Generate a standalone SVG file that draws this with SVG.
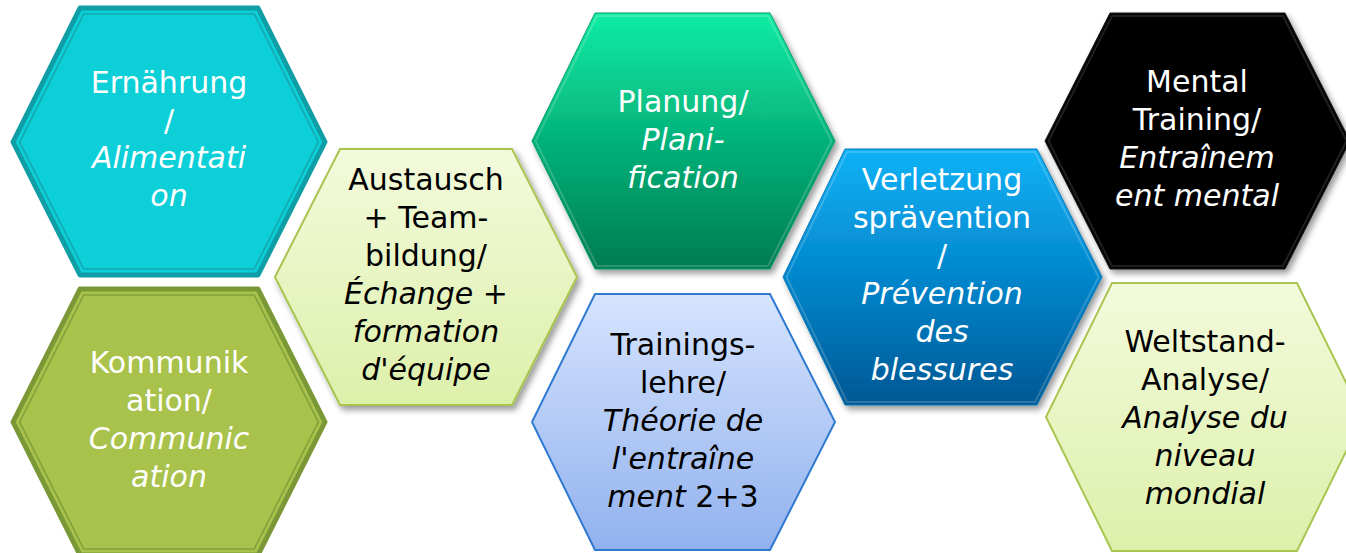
<svg xmlns="http://www.w3.org/2000/svg" width="1346" height="553" viewBox="0 0 1346 553">
<style>
  text { font-family: "DejaVu Sans", Verdana, sans-serif; font-size: 30px; text-anchor: middle; }
  .w { fill: #ffffff; }
  .b { fill: #000000; }
  .i { font-style: italic; }
</style>
<defs>
  <filter id="sh" x="-10%" y="-10%" width="125%" height="125%">
    <feDropShadow dx="3" dy="4" stdDeviation="3" flood-color="#000" flood-opacity="0.4"/>
  </filter>
  <linearGradient id="gLime" x1="0" y1="0" x2="0" y2="1">
    <stop offset="0" stop-color="#f3fadc"/>
    <stop offset="1" stop-color="#ddf0aa"/>
  </linearGradient>
  <linearGradient id="gGreen" x1="0" y1="0" x2="0" y2="1">
    <stop offset="0" stop-color="#12eca4"/>
    <stop offset="0.5" stop-color="#04b27a"/>
    <stop offset="1" stop-color="#007c50"/>
  </linearGradient>
  <linearGradient id="gBlueL" x1="0" y1="0" x2="0" y2="1">
    <stop offset="0" stop-color="#d6e4fe"/>
    <stop offset="1" stop-color="#91b1ee"/>
  </linearGradient>
  <linearGradient id="gBlue" x1="0" y1="0" x2="0" y2="1">
    <stop offset="0" stop-color="#10b2f6"/>
    <stop offset="0.5" stop-color="#0386cc"/>
    <stop offset="1" stop-color="#005894"/>
  </linearGradient>
</defs>

<g id="connectors"></g>

<g id="n-ernaehrung">
  <polygon points="80,8 258,8 325,142 258,275 80,275 13,142" fill="#0ccfd8" stroke="#0f9ea5" stroke-width="5" stroke-linejoin="round"/>
  <polygon points="83.7,14 254.3,14 318.3,142 254.3,269 83.7,269 19.7,142" fill="#0ccfd8" stroke="#14a8ae" stroke-width="1.6"/>
  <text class="w" x="169" y="93">Ernährung</text>
  <text class="w" x="169" y="131">/</text>
  <text class="w i" x="169" y="168">Alimentati</text>
  <text class="w i" x="169" y="206">on</text>
</g>

<g id="n-kommunikation">
  <polygon points="80,289 258,289 325,422 258,555 80,555 13,422" fill="#a8c24b" stroke="#7b9837" stroke-width="5" stroke-linejoin="round"/>
  <polygon points="83.7,295 254.3,295 318.3,422 254.3,549 83.7,549 19.7,422" fill="#a8c24b" stroke="#83a13c" stroke-width="1.6"/>
  <text class="w" x="169" y="373">Kommunik</text>
  <text class="w" x="169" y="411">ation/</text>
  <text class="w i" x="169" y="449">Communic</text>
  <text class="w i" x="169" y="487">ation</text>
</g>

<g id="n-austausch">
  <polygon points="340,149 512,149 577,277 512,405 340,405 275,277" fill="url(#gLime)" stroke="#a9c550" stroke-width="2" filter="url(#sh)"/>
  <text class="b" x="426" y="190">Austausch</text>
  <text class="b" x="426" y="228">+ Team-</text>
  <text class="b" x="426" y="266">bildung/</text>
  <text class="b i" x="426" y="304">Échange +</text>
  <text class="b i" x="426" y="342">formation</text>
  <text class="b i" x="426" y="380">d'équipe</text>
</g>

<g id="n-planung">
  <polygon points="595,13 770,13 835,141 770,269 595,269 532,141" fill="url(#gGreen)" stroke="#07a06c" stroke-width="1" filter="url(#sh)"/>
  <polygon points="597,16 768,16 831.5,141 768,266 597,266 535.5,141" fill="none" stroke="#ffffff" stroke-opacity="0.18" stroke-width="2"/>
  <text class="w" x="683" y="112">Planung/</text>
  <text class="w i" x="683" y="150">Plani-</text>
  <text class="w i" x="683" y="188">fication</text>
</g>

<g id="n-trainingslehre">
  <polygon points="595,294 770,294 835,422 770,550 595,550 532,422" fill="url(#gBlueL)" stroke="#2f79d0" stroke-width="2"/>
  <text class="b" x="683" y="355">Trainings-</text>
  <text class="b" x="683" y="393">lehre/</text>
  <text class="b i" x="683" y="431">Théorie de</text>
  <text class="b i" x="683" y="469">l'entraîne</text>
  <text class="b" x="683" y="507"><tspan class="i">ment</tspan> 2+3</text>
</g>

<g id="n-verletzung">
  <polygon points="845,149 1037,149 1102,277 1037,405 845,405 783,277" fill="url(#gBlue)" stroke="#0a7ab8" stroke-width="1" filter="url(#sh)"/>
  <polygon points="847,152 1035,152 1098.5,277 1035,402 847,402 786.5,277" fill="none" stroke="#ffffff" stroke-opacity="0.18" stroke-width="2"/>
  <text class="w" x="942" y="190">Verletzung</text>
  <text class="w" x="942" y="228">sprävention</text>
  <text class="w" x="942" y="266">/</text>
  <text class="w i" x="942" y="304">Prévention</text>
  <text class="w i" x="942" y="342">des</text>
  <text class="w i" x="942" y="380">blessures</text>
</g>

<g id="n-mental">
  <polygon points="1110,13 1285,13 1350,141 1285,269 1110,269 1045,141" fill="#000000" stroke="#1c1c1c" stroke-width="1" filter="url(#sh)"/>
  <polygon points="1112,16 1283,16 1346.5,141 1283,266 1112,266 1048.5,141" fill="none" stroke="#ffffff" stroke-opacity="0.12" stroke-width="2"/>
  <text class="w" x="1197" y="92">Mental</text>
  <text class="w" x="1197" y="130">Training/</text>
  <text class="w i" x="1197" y="168">Entraînem</text>
  <text class="w i" x="1197" y="206">ent mental</text>
</g>

<g id="n-weltstand">
  <polygon points="1112,283 1297,283 1363,417 1297,551 1112,551 1046,417" fill="url(#gLime)" stroke="#a9c550" stroke-width="2"/>
  <text class="b" x="1205" y="352">Weltstand-</text>
  <text class="b" x="1205" y="390">Analyse/</text>
  <text class="b i" x="1205" y="428">Analyse du</text>
  <text class="b i" x="1205" y="466">niveau</text>
  <text class="b i" x="1205" y="504">mondial</text>
</g>
</svg>
